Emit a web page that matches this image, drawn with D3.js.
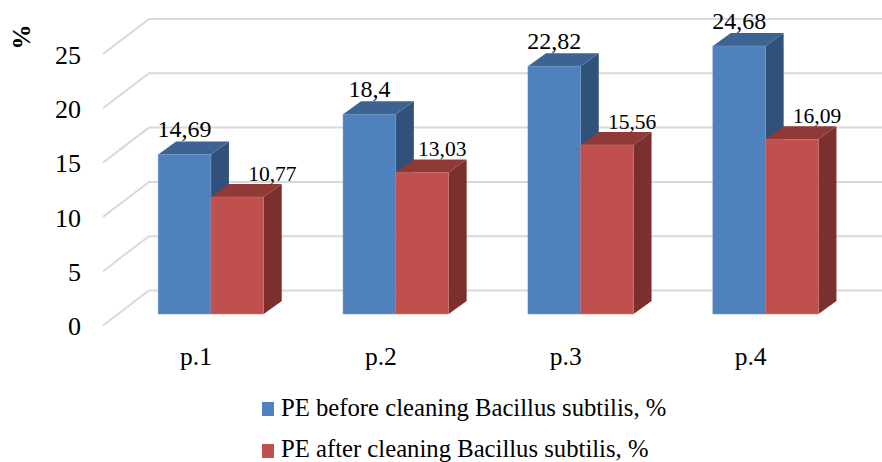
<!DOCTYPE html>
<html>
<head>
<meta charset="utf-8">
<script src="https://cdn.jsdelivr.net/npm/d3@7"></script>
<style>
  body { margin: 0; background: #fff; }
  svg { display: block; }
  text { font-family: "Liberation Serif", serif; fill: #000; }
</style>
</head>
<body>
<svg id="chart" width="882" height="462"></svg>
<script>
const categories = ["p.1", "p.2", "p.3", "p.4"];
const seriesNames = ["PE before cleaning Bacillus subtilis, %", "PE after cleaning Bacillus subtilis, %"];
const before = [14.69, 18.4, 22.82, 24.68];
const after = [10.77, 13.03, 15.56, 16.09];
const labelsBefore = ["14,69", "18,4", "22,82", "24,68"];
const labelsAfter = ["10,77", "13,03", "15,56", "16,09"];
const yTicks = [0, 5, 10, 15, 20, 25];

const svg = d3.select("#chart");

// back wall of the 3d box
const y = d3.scaleLinear().domain([0, 25]).range([290.5, 19]);
const x = d3.scaleBand().domain(categories).range([118.5, 858.1]).paddingInner(0).paddingOuter(0);
const barW = 52.8;

// offsets between the planes of the box
const floorDx = 46, floorDy = 35;
const barFrontDy = 23.5;
const depthDx = 18, depthDy = 13;

const colors = [
  { front: "#4f81bd", side: "#30527a", top: "#3c6391", edge: "#6f98c9" },
  { front: "#c0504d", side: "#7b302e", top: "#8f3a37", edge: "#cf706d" }
];

// gridlines
const grid = svg.append("g").attr("stroke", "#d9d9d9").attr("stroke-width", 2).attr("fill", "none");
grid.selectAll("path")
  .data(yTicks)
  .join("path")
  .attr("d", d => `M${149 - floorDx},${y(d) + floorDy}L149,${y(d)}L882,${y(d)}`);

// y axis, moved to the front edge of the box
const yAxis = d3.axisLeft(y).tickValues(yTicks).tickSize(0).tickPadding(0);
const axisG = svg.append("g")
  .attr("transform", `translate(81,${floorDy + 1})`)
  .call(yAxis);
axisG.select(".domain").remove();
axisG.selectAll("text")
  .attr("font-size", 26)
  .attr("font-family", "Liberation Serif")
  .attr("fill", "#000");

// category labels
const xAxis = d3.axisBottom(x).tickSize(0).tickPadding(0);
const xG = svg.append("g")
  .attr("transform", "translate(-15,347)")
  .call(xAxis);
xG.select(".domain").remove();
xG.selectAll("text")
  .attr("font-size", 25.5)
  .attr("font-family", "Liberation Serif")
  .attr("fill", "#000");

function drawBar(g, x0, value, c) {
  const y0 = y(0) + barFrontDy;
  const yTop = y(value) + barFrontDy;
  const x1 = x0 + barW;
  g.append("path").attr("fill", c.side)
    .attr("d", `M${x1},${y0}L${x1 + depthDx},${y0 - depthDy}L${x1 + depthDx},${yTop - depthDy}L${x1},${yTop}Z`);
  g.append("path").attr("fill", c.top)
    .attr("d", `M${x0},${yTop}L${x0 + depthDx},${yTop - depthDy}L${x1 + depthDx},${yTop - depthDy}L${x1},${yTop}Z`);
  g.append("rect").attr("fill", c.front)
    .attr("stroke", c.edge).attr("stroke-width", 0.5)
    .attr("x", x0).attr("y", yTop).attr("width", barW).attr("height", y0 - yTop);
}

const bars = svg.append("g");
categories.forEach((cat, i) => {
  const left = x(cat) + x.bandwidth() / 2 - barW;
  drawBar(bars, left, before[i], colors[0]);
  drawBar(bars, left + barW, after[i], colors[1]);
});

// value labels, the red ones were dragged sideways in the original
const redLabelDx = [35, 20, 25, 25];
const labels = svg.append("g").attr("text-anchor", "middle");
categories.forEach((cat, i) => {
  const left = x(cat) + x.bandwidth() / 2 - barW;
  labels.append("text")
    .attr("x", left + barW / 2)
    .attr("y", y(before[i]) + barFrontDy - 17)
    .attr("font-size", 24)
    .text(labelsBefore[i]);
  labels.append("text")
    .attr("x", left + barW * 1.5 + redLabelDx[i])
    .attr("y", y(after[i]) + barFrontDy - 16)
    .attr("font-size", 21.5)
    .text(labelsAfter[i]);
});

// axis title
svg.append("text")
  .attr("transform", "translate(30,37) rotate(-90)")
  .attr("text-anchor", "middle")
  .attr("font-size", 25)
  .attr("font-weight", "bold")
  .text("%");

// legend
const legendY = [416, 456.5];
const swatchY = [416, 458];
const legend = svg.append("g");
seriesNames.forEach((name, i) => {
  legend.append("rect")
    .attr("x", 262).attr("y", swatchY[i] - 14)
    .attr("width", 12).attr("height", 14)
    .attr("fill", colors[i].front);
  legend.append("text")
    .attr("x", 281).attr("y", legendY[i])
    .attr("font-size", 24.7)
    .text(name);
});
</script>
</body>
</html>
